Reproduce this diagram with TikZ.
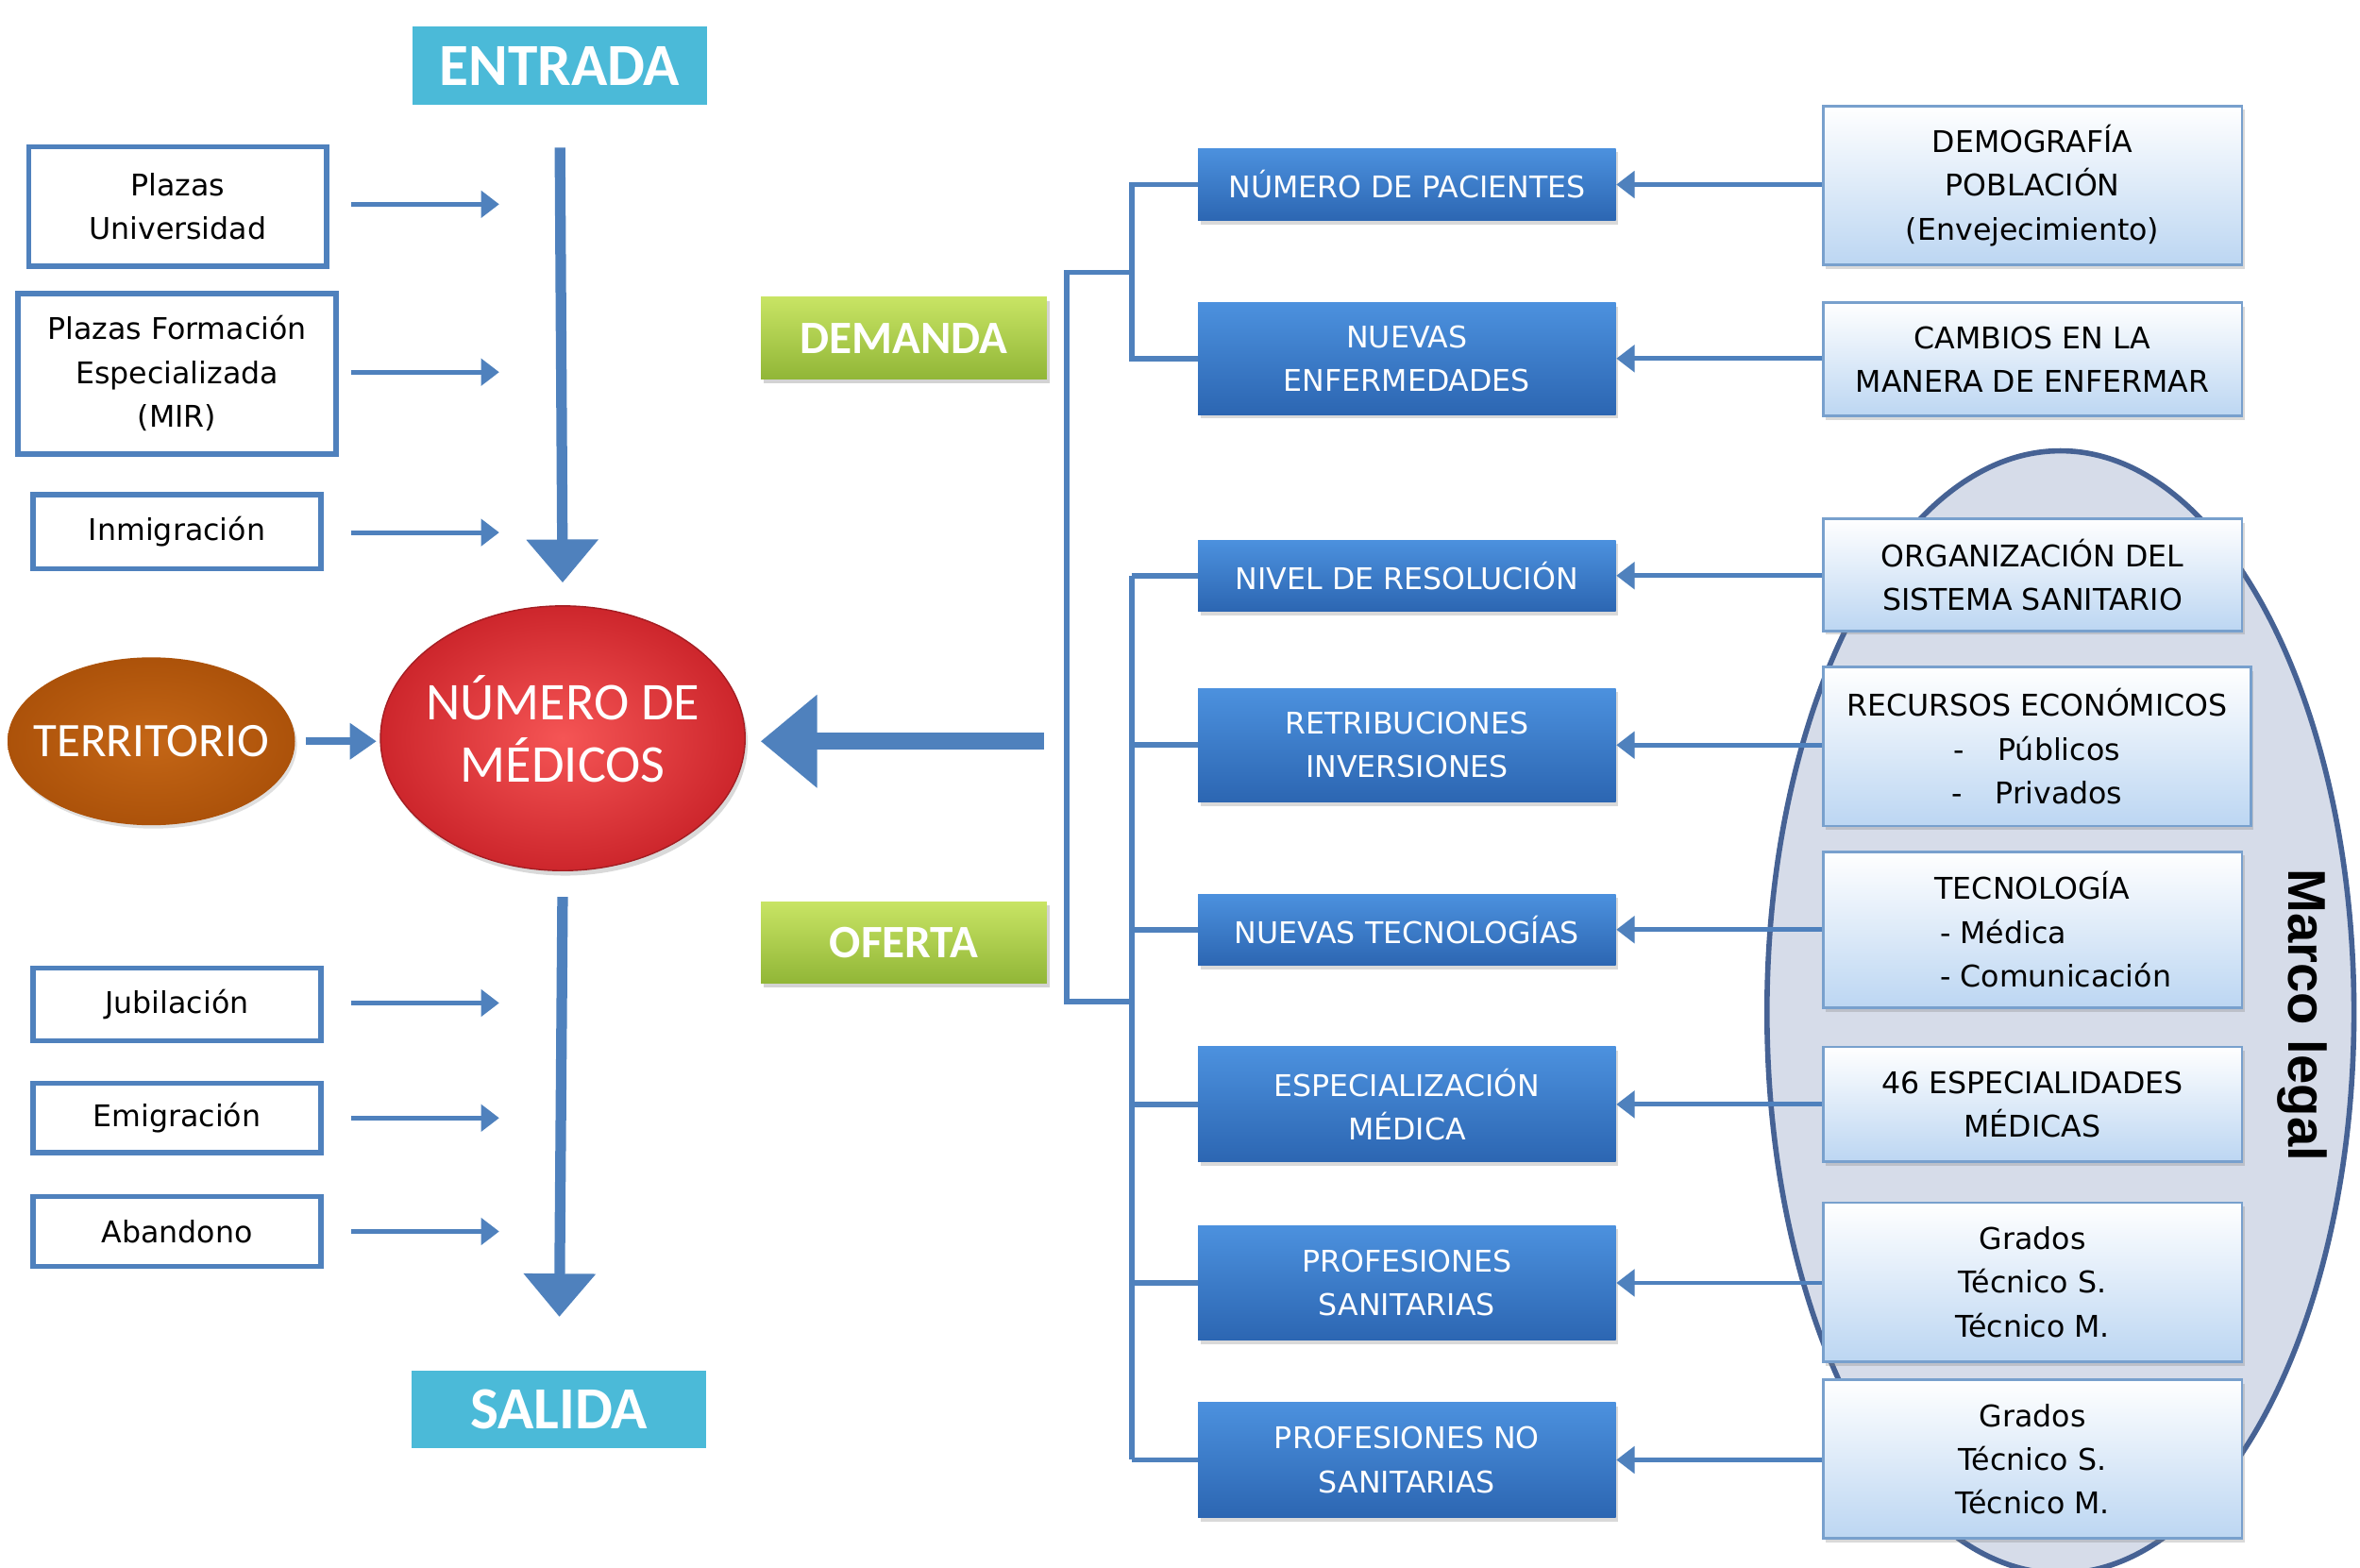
\documentclass[tikz,border=0pt]{standalone}
\usepackage{fontspec}
\setmainfont{DejaVu Sans}
\newfontfamily\calfont{Carlito}
\newfontfamily\arlfont{Liberation Sans}
\usetikzlibrary{arrows.meta,shapes.geometric,shadows}
\definecolor{lb}{RGB}{79,129,189}
\definecolor{cy}{RGB}{75,186,216}
\definecolor{gt}{RGB}{200,228,100}
\definecolor{gb}{RGB}{145,182,55}
\definecolor{bt}{RGB}{76,145,222}
\definecolor{bb}{RGB}{44,102,178}
\definecolor{rb}{RGB}{188,214,242}
\definecolor{rbd}{RGB}{120,160,205}
\definecolor{redin}{RGB}{245,85,85}
\definecolor{redout}{RGB}{205,38,44}
\definecolor{brin}{RGB}{196,102,22}
\definecolor{brout}{RGB}{172,82,10}
\definecolor{mfill}{RGB}{214,220,233}
\definecolor{mdraw}{RGB}{70,98,148}
\def\px{0.016026cm}
\begin{document}
\begin{tikzpicture}[x=0.016026cm,y=-0.016026cm,
  txt/.style={font=\fontsize{9}{13.2}\selectfont},
  lbox/.style={txt,draw=lb,line width=1.6pt,fill=white,align=center,inner sep=0pt},
  bbox/.style={txt,top color=bt,bottom color=bb,draw=none,text=white,align=center,inner sep=0pt,
     minimum width=276*\px,drop shadow={shadow xshift=0.8pt,shadow yshift=-1.2pt,opacity=0.3}},
  rbox/.style={txt,top color=white,bottom color=rb,draw=rbd,line width=0.8pt,align=center,inner sep=0pt,
     drop shadow={shadow xshift=0.8pt,shadow yshift=-1.2pt,opacity=0.3}},
  cbox/.style={fill=cy,draw=white,line width=2.5pt,text=white,inner sep=0pt,
     font=\calfont\bfseries\fontsize{18}{20}\selectfont,
     minimum width=200*\px,minimum height=57*\px,
     drop shadow={shadow xshift=0.6pt,shadow yshift=-1.2pt,opacity=0.3}},
  gbox/.style={top color=gt,bottom color=gb,draw=none,text=white,inner sep=0pt,
     font=\calfont\bfseries\fontsize{14}{16}\selectfont,
     minimum width=189*\px,minimum height=54*\px,
     drop shadow={shadow xshift=0.8pt,shadow yshift=-1.2pt,opacity=0.35}},
  sarrow/.style={draw=lb,line width=1.4pt,-{Triangle[length=5.5pt,width=8pt]}},
  bigdown/.style={draw=lb,line width=3.2pt,-{Triangle[length=13pt,width=21pt]}},
  bigleft/.style={draw=lb,line width=5pt,-{Triangle[length=17pt,width=27pt]}},
  terarrow/.style={draw=lb,line width=2.3pt,-{Triangle[length=8pt,width=10.5pt]}},
  brk/.style={draw=lb,line width=1.6pt}
]
\useasboundingbox (0,0) rectangle (1560,1036);

% ---------- left column ----------
\node[cbox] (ent) at (370,43.5) {ENTRADA};
\node[cbox] (sal) at (369.5,931.5) {SALIDA};

\node[lbox,minimum width=197*\px,minimum height=79*\px] (pu) at (117.5,136.5) {Plazas\\Universidad};
\node[lbox,minimum width=210*\px,minimum height=106*\px] (pf) at (117,247) {Plazas Formación\\Especializada\\(MIR)};
\node[lbox,minimum width=190*\px,minimum height=49*\px] (im) at (117,351.5) {Inmigración};
\node[lbox,minimum width=190*\px,minimum height=48*\px] (ju) at (117,664) {Jubilación};
\node[lbox,minimum width=190*\px,minimum height=46*\px] (em) at (117,739) {Emigración};
\node[lbox,minimum width=190*\px,minimum height=46*\px] (ab) at (117,814) {Abandono};

\node[ellipse,inner sep=0pt,minimum width=190*\px,minimum height=111*\px,
      inner color=brin,outer color=brout,text=white,
      font=\calfont\fontsize{14.5}{16}\selectfont,
      drop shadow={shadow xshift=0.6pt,shadow yshift=-1pt,opacity=0.25}] (ter) at (100,490) {\makebox[0pt]{TERRITORIO}};
\node[ellipse,inner sep=0pt,minimum width=241*\px,minimum height=175*\px,
      inner color=redin,outer color=redout,draw=redout!80!black,line width=0.4pt,text=white,
      font=\calfont\fontsize{16}{19}\selectfont,
      drop shadow={shadow xshift=0.8pt,shadow yshift=-1.5pt,opacity=0.3}] (med) at (372,488)
      {\makebox[0pt]{\raisebox{-2pt}{\begin{tabular}{@{}c@{}}NÚMERO DE\\[-0.5pt]MÉDICOS\end{tabular}}}};

\coordinate (ax) at (232,0);
\coordinate (tx) at (330,0);
\foreach \n/\yy in {pu/135,pf/246,im/352,ju/663,em/739,ab/814}{
  \draw[sarrow] (ax |- 0,\yy) -- (tx |- 0,\yy);
}

\draw[bigdown,shorten <=10.4pt,shorten >=6.8pt] (ent.south) -- (med.north);
\draw[bigdown,shorten <=7.7pt,shorten >=13.6pt] (med.south) -- (sal.north);
\draw[terarrow,shorten <=3pt,shorten >=1pt] (ter.east) -- (med.west |- ter.east);

\coordinate (bigstart) at (690,490);
\draw[bigleft,shorten >=4.5pt] (bigstart) -- (med.east |- bigstart);

% ---------- middle ----------
\node[gbox] (dem) at (597.5,223.5) {DEMANDA};
\node[gbox] (ofe) at (597.5,623) {OFERTA};

\node[bbox,minimum height=48*\px] (npac) at (930,122) {NÚMERO DE PACIENTES};
\node[bbox,minimum height=74*\px] (nenf) at (930,237) {NUEVAS\\ENFERMEDADES};
\node[bbox,minimum height=47*\px] (nivel) at (930,380.5) {NIVEL DE RESOLUCIÓN};
\node[bbox,minimum height=75*\px] (retr) at (930,492.5) {RETRIBUCIONES\\INVERSIONES};
\node[bbox,minimum height=47*\px] (ntec) at (930,614.5) {NUEVAS TECNOLOGÍAS};
\node[bbox,minimum height=76*\px] (espe) at (930,730) {ESPECIALIZACIÓN\\MÉDICA};
\node[bbox,minimum height=76*\px] (ps) at (930,848) {PROFESIONES\\SANITARIAS};
\node[bbox,minimum height=76*\px] (pns) at (930,965) {PROFESIONES NO\\SANITARIAS};

\coordinate (b1) at (705,0);
\coordinate (b2) at (748,0);
\coordinate (dj) at (748,180);
\coordinate (oj) at (748,662);
\draw[brk] (npac.west) -- (npac.west -| b2) -- (nenf.west -| b2) -- (nenf.west);
\draw[brk] (dj) -- (b1 |- dj) -- (b1 |- oj) -- (oj);
\draw[brk] (nivel.west -| b2) -- (pns.west -| b2);
\foreach \n in {nivel,retr,ntec,espe,ps,pns}{
  \draw[brk] (\n.west -| b2) -- (\n.west);
}

% ---------- right ----------
\node[ellipse,inner sep=0pt,minimum width=388*\px,minimum height=742*\px,
      fill=mfill,draw=mdraw,line width=1.6pt] (marco) at (1362,669) {};
\node[rotate=-90,font=\arlfont\bfseries\fontsize{16}{18}\selectfont] (ml) at (1522,671) {Marco legal};

\node[rbox,minimum width=277*\px,minimum height=105*\px] (r1) at (1343.5,122.5) {DEMOGRAFÍA\\POBLACIÓN\\(Envejecimiento)};
\node[rbox,minimum width=277*\px,minimum height=75*\px] (r2) at (1343.5,237.5) {CAMBIOS EN LA\\MANERA DE ENFERMAR};
\node[rbox,minimum width=277*\px,minimum height=74*\px] (r3) at (1343.5,380) {ORGANIZACIÓN DEL\\SISTEMA SANITARIO};
\node[rbox,minimum width=283*\px,minimum height=105*\px] (r4) at (1346.5,493.5) {RECURSOS ECONÓMICOS\\-\hspace{10pt}Públicos\\-\hspace{10pt}Privados};
\node[rbox,minimum width=277*\px,minimum height=103*\px] (r5) at (1343.5,614.5) {TECNOLOGÍA\\\hspace*{14pt}\rlap{- Médica}\phantom{- Comunicación}\\\hspace*{14pt}- Comunicación};
\node[rbox,minimum width=277*\px,minimum height=76*\px] (r6) at (1343.5,730) {46 ESPECIALIDADES\\MÉDICAS};
\node[rbox,minimum width=277*\px,minimum height=105*\px] (r7) at (1343.5,847.5) {Grados\\Técnico S.\\Técnico M.};
\node[rbox,minimum width=277*\px,minimum height=105*\px] (r8) at (1343.5,964.5) {Grados\\Técnico S.\\Técnico M.};

\foreach \r/\b in {r1/npac,r2/nenf,r3/nivel,r4/retr,r5/ntec,r6/espe,r7/ps,r8/pns}{
  \draw[sarrow] (\r.west |- \b.east) -- (\b.east);
}
\end{tikzpicture}
\end{document}
